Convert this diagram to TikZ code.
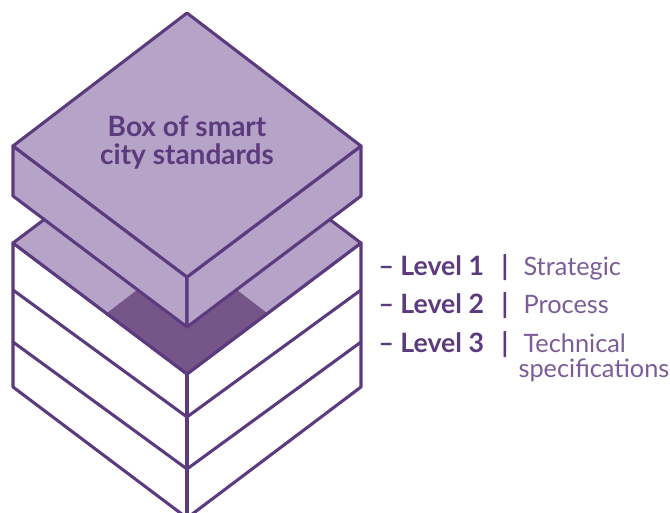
\documentclass[tikz,border=0pt]{standalone}
\usepackage{fontspec}
\setmainfont{Lato}
\newfontfamily\barfont{Lato}[FakeBold=3]
\usetikzlibrary{positioning}
\definecolor{boxline}{HTML}{5C3A7E}
\definecolor{lidfill}{HTML}{B5A4C7}
\definecolor{innerfill}{HTML}{765589}
\definecolor{desctext}{HTML}{7B5C98}
\begin{document}
\begin{tikzpicture}[x=0.75pt,y=-0.75pt,line width=2.3pt,line join=round,
  edge/.style={draw=boxline},
  lid/.style={edge,fill=lidfill},
  side/.style={edge,fill=white},
  title/.style={text=boxline,align=center,font=\bfseries\fontsize{21}{21}\selectfont},
  level/.style={anchor=base west,inner sep=0pt,text=boxline,font=\bfseries\fontsize{20}{22}\selectfont},
  bar/.style={level,font=\barfont\fontsize{20}{22}\selectfont},
  desc/.style={anchor=base west,inner sep=0pt,text=desctext,font=\fontsize{19}{20}\selectfont}]
\useasboundingbox (0,0) rectangle (670,513);
% lower box with its three levels
\draw[side](13,243)--(187,374)--(361,243)--(361,387)--(187,518)--(13,387)--cycle;
\foreach \l/\f in {290/417,342/469}{\draw[edge](13,\l)--(187,\f)--(361,\l);}
\draw[edge](187,374)--(187,518);
%
\fill[lidfill](13,243)--(187,112)--(361,243)--(187,374)--cycle;
\fill[innerfill](107,313)--(137,290)--(187,327)--(237,290)--(267,313)--(187,374)--cycle;
\draw[edge](13,243)--(187,112)--(361,243)--(187,374)--cycle;
% lid
\draw[lid](13,146)--(187,277)--(187,327)--(13,196)--cycle;
\draw[lid](361,146)--(187,277)--(187,327)--(361,196)--cycle;
\draw[lid](187,13)--(13,146)--(187,277)--(361,146)--cycle;
\node[title](boxname) at (187,143){Box of smart\\city standards};
% levels
\foreach \n/\y/\d in {1/275/Strategic,2/313/Process,3/352/Technical}{
  \node[level](lev\n) at (377,\y){– Level \n};
  \node[bar](bar\n) at (500,\y){|};
  \node[desc](desc\n) at (522,\y){\d};
}
\node[desc](spec) at (517,377){specifications};
\end{tikzpicture}
\end{document}
